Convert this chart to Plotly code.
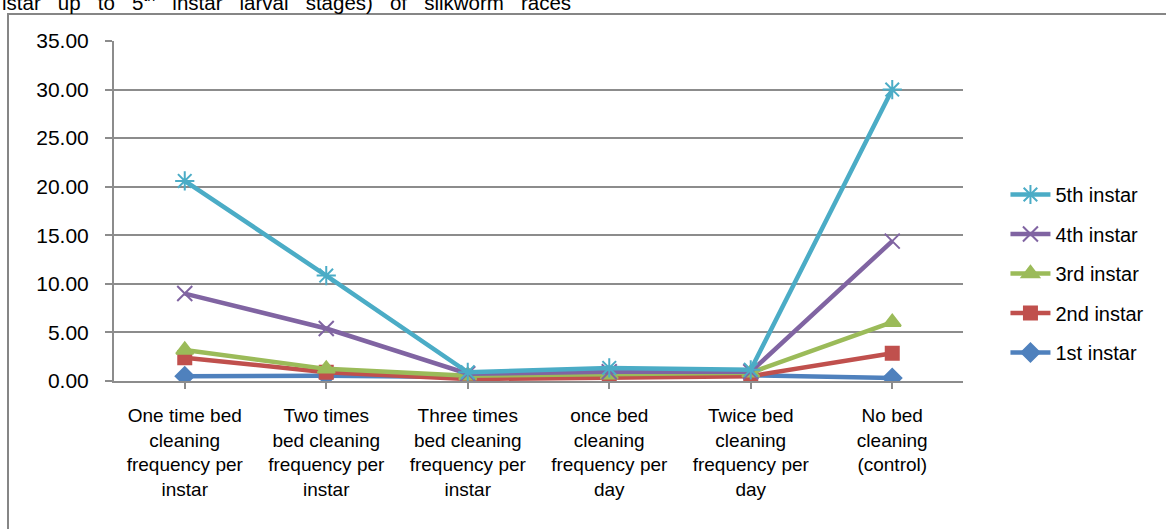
import plotly.graph_objects as go

# Bed cleaning treatments (x categories)
treatments = [
    "One time bed<br>cleaning<br>frequency per<br>instar",
    "Two times<br>bed cleaning<br>frequency per<br>instar",
    "Three times<br>bed cleaning<br>frequency per<br>instar",
    "once bed<br>cleaning<br>frequency per<br>day",
    "Twice bed<br>cleaning<br>frequency per<br>day",
    "No bed<br>cleaning<br>(control)",
]

# Values per larval stage
instar_1 = [0.50, 0.55, 0.40, 0.55, 0.60, 0.30]
instar_2 = [2.40, 0.90, 0.20, 0.40, 0.50, 2.85]
instar_3 = [3.20, 1.25, 0.55, 0.65, 0.85, 6.05]
instar_4 = [9.00, 5.40, 0.75, 0.95, 0.95, 14.40]
instar_5 = [20.60, 10.85, 0.90, 1.35, 1.15, 30.00]

y_ticks = [0, 5, 10, 15, 20, 25, 30, 35]

# name, values, colour, marker symbol, marker size, legend rank (5th listed first)
series = [
    ("1st instar", instar_1, "#4F81BD", "diamond", 14, 5),
    ("2nd instar", instar_2, "#C0504D", "square", 13, 4),
    ("3rd instar", instar_3, "#9BBB59", "triangle-up", 15, 3),
    ("4th instar", instar_4, "#8064A2", "x-thin-open", 15, 2),
    ("5th instar", instar_5, "#4BACC6", "asterisk-open", 16, 1),
]

fig = go.Figure()
for name, vals, color, symbol, size, rank in series:
    fig.add_trace(go.Scatter(
        x=list(range(len(treatments))), y=vals, name=name, mode="lines+markers",
        legendgroup=name, legendrank=rank,
        line=dict(color=color, width=4.5),
        marker=dict(symbol=symbol, size=size, color=color,
                    line=dict(color=color, width=2)),
    ))

grid = "#8C8C8C"
gap = "&nbsp;&nbsp; "
caption = gap.join(["istar", "up", "to", "5<sup>th</sup>", "instar", "larval",
                    "stages)", "of", "silkworm", "races"])

fig.update_layout(
    width=1166, height=529,
    margin=dict(l=114, r=203, t=41, b=148),
    paper_bgcolor="white", plot_bgcolor="white",
    font=dict(family="Liberation Sans, Arial, sans-serif", color="black"),
    showlegend=True,
    legend=dict(
        x=1.05, y=(381 - 175) / 340, xanchor="left", yanchor="top",
        traceorder="grouped", tracegroupgap=10.5,
        font=dict(size=20, family="Liberation Sans, Arial, sans-serif"),
        itemwidth=40, bgcolor="rgba(0,0,0,0)",
    ),
    xaxis=dict(
        tickmode="array", tickvals=list(range(len(treatments))), ticktext=treatments,
        range=[-0.5, len(treatments) - 0.5],
        showgrid=False, zeroline=False,
        showline=True, linecolor=grid, linewidth=2,
        ticks="outside", ticklen=6, tickcolor=grid, tickwidth=1.5,
        tickson="boundaries", ticklabelstandoff=10,
        tickfont=dict(size=19),
        fixedrange=True,
    ),
    yaxis=dict(
        range=[0, 35], tickvals=y_ticks, ticktext=[f"{v:.2f}" for v in y_ticks],
        showgrid=True, gridcolor=grid, gridwidth=1.5, zeroline=False,
        showline=True, linecolor=grid, linewidth=2,
        ticks="outside", ticklen=7, tickcolor=grid, tickwidth=1.5,
        ticklabelstandoff=12,
        tickfont=dict(size=21), fixedrange=True,
    ),
    shapes=[dict(
        type="rect", xref="paper", yref="paper",
        x0=(8 - 114) / 849, x1=(1175 - 114) / 849,
        y0=(381 - 540) / 340, y1=1 + (41 - 14) / 340,
        line=dict(color="#868686", width=2), fillcolor="rgba(0,0,0,0)", layer="below",
    )],
    annotations=[dict(
        xref="paper", yref="paper", x=(0 - 114) / 849, y=1 + (41 - 1) / 340,
        xanchor="left", yanchor="middle", showarrow=False,
        text=caption,
        font=dict(size=20.5),
    )],
)

fig.write_html("out.html")
